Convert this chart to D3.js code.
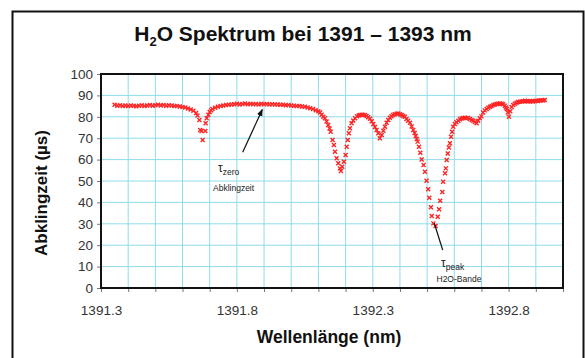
<!DOCTYPE html>
<html>
<head>
<meta charset="utf-8">
<script src="https://cdn.jsdelivr.net/npm/d3@7"></script>
<style>
  html, body { margin: 0; padding: 0; background: #fff; }
  svg { display: block; font-family: 'Liberation Sans', Arial, sans-serif; }
</style>
</head>
<body>
<div id="chart"></div>
<script>
const wavelength = [
  1391.35, 1391.36, 1391.37, 1391.38, 1391.39, 1391.40, 1391.41, 1391.42, 1391.43, 1391.44,
  1391.45, 1391.46, 1391.47, 1391.48, 1391.49, 1391.50, 1391.51, 1391.52, 1391.53, 1391.54,
  1391.55, 1391.56, 1391.57, 1391.58, 1391.59, 1391.60, 1391.61, 1391.62, 1391.63, 1391.64,
  1391.65, 1391.655, 1391.662, 1391.665, 1391.670, 1391.674, 1391.684, 1391.685, 1391.689, 1391.695,
  1391.70, 1391.705, 1391.71, 1391.72, 1391.73, 1391.74, 1391.75, 1391.76, 1391.77, 1391.78,
  1391.79, 1391.80, 1391.81, 1391.82, 1391.83, 1391.84, 1391.85, 1391.86, 1391.87, 1391.88,
  1391.89, 1391.90, 1391.91, 1391.92, 1391.93, 1391.94, 1391.95, 1391.96, 1391.97, 1391.98,
  1391.99, 1392.00, 1392.01, 1392.02, 1392.03, 1392.04, 1392.05, 1392.06, 1392.07, 1392.08,
  1392.09, 1392.10, 1392.106, 1392.112, 1392.118, 1392.124, 1392.130, 1392.136, 1392.141, 1392.145,
  1392.152, 1392.157, 1392.161, 1392.167, 1392.173, 1392.179, 1392.183, 1392.188, 1392.194, 1392.200,
  1392.204, 1392.208, 1392.212, 1392.216, 1392.222, 1392.228, 1392.235, 1392.242, 1392.248, 1392.253,
  1392.259, 1392.265, 1392.271, 1392.277, 1392.283, 1392.290, 1392.296, 1392.302, 1392.308, 1392.314,
  1392.320, 1392.326, 1392.333, 1392.339, 1392.345, 1392.351, 1392.357, 1392.363, 1392.369, 1392.375,
  1392.381, 1392.388, 1392.394, 1392.400, 1392.406, 1392.412, 1392.418, 1392.424, 1392.430, 1392.437,
  1392.443, 1392.449, 1392.454, 1392.458, 1392.462, 1392.465, 1392.470, 1392.475, 1392.480, 1392.487,
  1392.492, 1392.498, 1392.504, 1392.508, 1392.514, 1392.517, 1392.523, 1392.531, 1392.539, 1392.544,
  1392.548, 1392.556, 1392.559, 1392.566, 1392.569, 1392.572, 1392.576, 1392.580, 1392.584, 1392.588,
  1392.592, 1392.596, 1392.602, 1392.608, 1392.615, 1392.621, 1392.627, 1392.633, 1392.639, 1392.645,
  1392.651, 1392.657, 1392.664, 1392.670, 1392.676, 1392.682, 1392.688, 1392.694, 1392.700, 1392.706,
  1392.712, 1392.719, 1392.725, 1392.731, 1392.737, 1392.744, 1392.750, 1392.756, 1392.762, 1392.768,
  1392.774, 1392.780, 1392.786, 1392.790, 1392.793, 1392.797, 1392.801, 1392.806, 1392.811, 1392.817,
  1392.823, 1392.829, 1392.835, 1392.841, 1392.848, 1392.854, 1392.860, 1392.866, 1392.872, 1392.878,
  1392.884, 1392.890, 1392.896, 1392.902, 1392.908, 1392.914, 1392.920, 1392.927, 1392.933
];

// Abklingzeit (µs) at each wavelength
const decayTime = [
  85.6, 85.2, 85.4, 85.1, 85.3, 85.0, 85.3, 85.2, 84.9, 85.2,
  85.4, 85.1, 85.3, 85.5, 85.2, 85.4, 85.6, 85.3, 85.5, 85.2,
  85.4, 85.3, 85.1, 85.0, 84.8, 84.6, 84.3, 83.9, 83.4, 82.8,
  81.8, 80.6, 78.5, 73.8, 73.4, 69.2, 73.4, 77.0, 79.3, 81.0,
  82.2, 83.0, 83.6, 84.2, 84.7, 85.0, 85.3, 85.5, 85.6, 85.8,
  85.9, 86.1, 85.8, 86.0, 86.2, 85.9, 86.1, 85.9, 86.0, 85.8,
  86.1, 85.9, 86.0, 85.8, 85.9, 85.7, 85.8, 85.6, 85.6, 85.4,
  85.5, 85.3, 85.2, 85.1, 85.0, 84.8, 84.7, 84.4, 84.0, 83.6,
  83.1, 82.6, 82.0, 81.0, 80.0, 79.3, 77.8, 76.2, 74.5, 73.0,
  69.2, 66.8, 63.7, 60.6, 58.3, 55.9, 54.7, 56.7, 59.0, 62.1,
  66.0, 69.2, 72.3, 74.6, 77.0, 78.3, 79.3, 80.2, 80.6, 80.8,
  81.0, 80.9, 80.8, 80.4, 79.8, 79.1, 77.9, 76.6, 75.2, 73.8,
  72.3, 70.0, 71.5, 73.5, 75.4, 77.2, 78.5, 79.6, 80.3, 80.8,
  81.2, 81.4, 81.5, 81.2, 80.8, 80.4, 80.0, 79.0, 78.2, 77.2,
  75.5, 73.8, 72.4, 71.0, 69.6, 68.4, 66.0, 63.2, 60.1, 57.5,
  54.3, 50.1, 46.1, 42.2, 37.7, 33.6, 30.2, 29.0, 33.3, 36.8,
  40.8, 44.9, 49.7, 53.6, 55.9, 59.8, 62.9, 65.6, 67.6, 70.7,
  73.0, 75.4, 76.6, 77.4, 78.2, 78.8, 79.2, 79.5, 79.6, 79.3,
  79.5, 79.0, 78.5, 78.1, 77.6, 77.0, 78.2, 79.3, 80.2, 82.0,
  83.0, 83.6, 84.2, 84.7, 85.0, 85.5, 85.8, 86.0, 86.1, 86.2,
  86.1, 85.9, 85.2, 84.3, 83.6, 82.0, 80.0, 82.6, 84.6, 85.5,
  86.1, 86.6, 86.9, 87.0, 87.2, 87.3, 87.5, 87.3, 87.2, 87.4,
  87.3, 87.2, 87.4, 87.5, 87.4, 87.6, 87.7, 87.6, 87.8
];

const xTicks = [1391.3, 1391.4, 1391.5, 1391.6, 1391.7, 1391.8, 1391.9, 1392.0, 1392.1,
  1392.2, 1392.3, 1392.4, 1392.5, 1392.6, 1392.7, 1392.8, 1392.9, 1393.0];
const xTickLabels = ['1391.3', '1391.8', '1392.3', '1392.8'];
const yTicks = [0, 10, 20, 30, 40, 50, 60, 70, 80, 90, 100];

const W = 585, H = 358;
const margin = { top: 74, right: 22, bottom: 70, left: 101 };
const width = W - margin.left - margin.right;
const height = H - margin.top - margin.bottom;

const svg = d3.select('#chart').append('svg')
  .attr('width', W)
  .attr('height', H);

// outer frame
svg.append('rect')
  .attr('x', 12.5).attr('y', 11.5)
  .attr('width', 571).attr('height', 370)
  .attr('fill', '#fff')
  .attr('stroke', '#111')
  .attr('stroke-width', 2);

// title with subscript
const title = svg.append('text')
  .attr('x', 303).attr('y', 41)
  .attr('text-anchor', 'middle')
  .attr('font-size', 21).attr('font-weight', 'bold')
  .attr('fill', '#111');
title.append('tspan').text('H');
title.append('tspan').attr('dy', 5).attr('font-size', 13).text('2');
title.append('tspan').attr('dy', -5).text('O Spektrum bei 1391 \u2013 1393 nm');

const g = svg.append('g')
  .attr('transform', `translate(${margin.left},${margin.top})`);

const x = d3.scaleLinear().domain([1391.3, 1393.0]).range([0, width]);
const y = d3.scaleLinear().domain([0, 100]).range([height, 0]);

// grid
g.append('g')
  .selectAll('line')
  .data(xTicks)
  .enter().append('line')
  .attr('x1', d => x(d)).attr('x2', d => x(d))
  .attr('y1', 0).attr('y2', height)
  .attr('stroke', '#8edcea').attr('stroke-width', 1);

g.append('g')
  .selectAll('line')
  .data(yTicks)
  .enter().append('line')
  .attr('x1', 0).attr('x2', width)
  .attr('y1', d => y(d)).attr('y2', d => y(d))
  .attr('stroke', '#8edcea').attr('stroke-width', 1);

// X axis
const xAxis = g.append('g')
  .attr('transform', `translate(0,${height})`)
  .call(d3.axisBottom(x)
    .tickValues(xTicks)
    .tickSize(4)
    .tickPadding(13)
    .tickFormat(d => {
      const s = d.toFixed(1);
      return xTickLabels.includes(s) ? s : '';
    }));
xAxis.select('.domain').remove();
xAxis.selectAll('line').attr('stroke', '#777');
xAxis.selectAll('text')
  .style('font-family', 'Liberation Sans, Arial, sans-serif')
  .style('font-size', '13.5px')
  .attr('fill', '#333');

// Y axis
const yAxis = g.append('g')
  .call(d3.axisLeft(y)
    .tickValues(yTicks)
    .tickSize(4)
    .tickPadding(4));
yAxis.select('.domain').remove();
yAxis.selectAll('line').attr('stroke', '#777');
yAxis.selectAll('text')
  .style('font-family', 'Liberation Sans, Arial, sans-serif')
  .style('font-size', '13.5px')
  .attr('fill', '#333');

// plot border
g.append('rect')
  .attr('x', 0).attr('y', 0)
  .attr('width', width).attr('height', height)
  .attr('fill', 'none')
  .attr('stroke', '#111')
  .attr('stroke-width', 2);

// markers
const points = wavelength.map((w, i) => ({ w: w, v: decayTime[i] }));
g.append('g')
  .selectAll('path')
  .data(points)
  .enter().append('path')
  .attr('transform', d => `translate(${x(d.w)},${y(d.v)})`)
  .attr('d', 'M-2,-2L2,2M-2,2L2,-2')
  .attr('stroke', '#ff2424')
  .attr('stroke-width', 1.4)
  .attr('fill', 'none');

// annotations
svg.append('defs').append('marker')
  .attr('id', 'arrow')
  .attr('viewBox', '0 0 10 10')
  .attr('refX', 9).attr('refY', 5)
  .attr('markerWidth', 6).attr('markerHeight', 6)
  .attr('orient', 'auto')
  .append('path')
  .attr('d', 'M0,1L10,5L0,9Z')
  .attr('fill', '#111');

svg.append('line')
  .attr('x1', 242.7).attr('y1', 152.3)
  .attr('x2', 262.3).attr('y2', 109.5)
  .attr('stroke', '#111').attr('stroke-width', 1.2)
  .attr('marker-end', 'url(#arrow)');

const tz = svg.append('text')
  .attr('x', 218).attr('y', 172)
  .attr('font-size', 12).attr('fill', '#222');
tz.append('tspan').text('\u03c4');
tz.append('tspan').attr('dy', 3).attr('font-size', 8.5).text('zero');
svg.append('text')
  .attr('x', 213).attr('y', 191)
  .attr('font-size', 8.5).attr('fill', '#222')
  .text('Abklingzeit');

svg.append('line')
  .attr('x1', 434.3).attr('y1', 223.3)
  .attr('x2', 442.7).attr('y2', 250)
  .attr('stroke', '#111').attr('stroke-width', 1.2);

const tp = svg.append('text')
  .attr('x', 441).attr('y', 267)
  .attr('font-size', 12).attr('fill', '#222');
tp.append('tspan').text('\u03c4');
tp.append('tspan').attr('dy', 3).attr('font-size', 8.5).text('peak');
svg.append('text')
  .attr('x', 436.5).attr('y', 282)
  .attr('font-size', 8.5).attr('fill', '#222')
  .text('H2O-Bande');

// axis titles
svg.append('text')
  .attr('x', 329).attr('y', 343)
  .attr('text-anchor', 'middle')
  .attr('font-size', 17.5).attr('font-weight', 'bold')
  .attr('fill', '#111')
  .text('Wellenlänge (nm)');

svg.append('text')
  .attr('transform', 'translate(47,193) rotate(-90)')
  .attr('text-anchor', 'middle')
  .attr('font-size', 17).attr('font-weight', 'bold')
  .attr('fill', '#111')
  .text('Abklingzeit (µs)');
</script>
</body>
</html>
